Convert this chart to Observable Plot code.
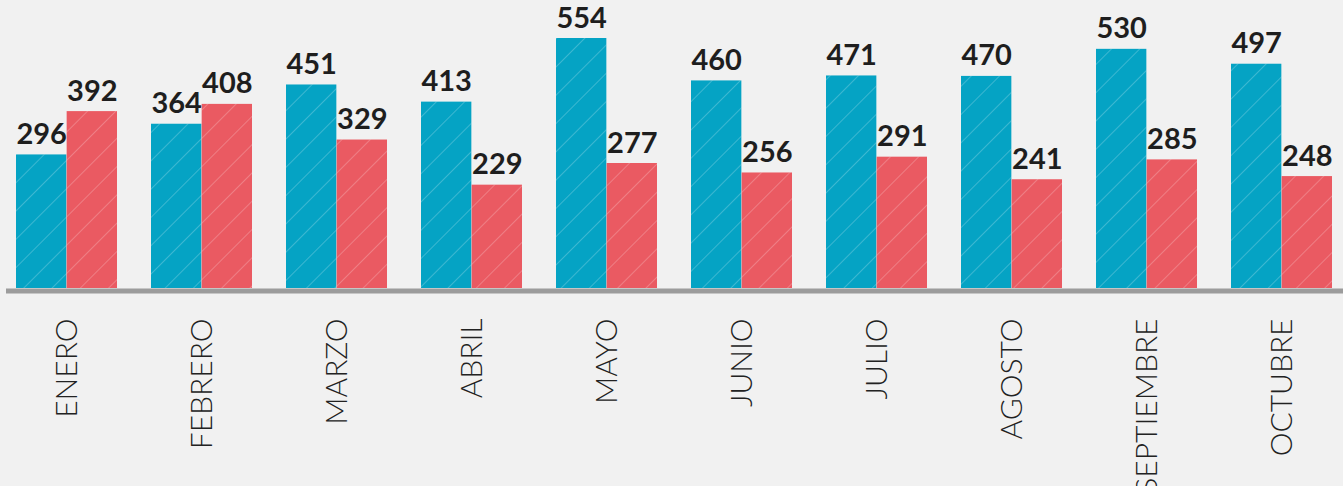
<!DOCTYPE html>
<html>
<head>
<meta charset="utf-8">
<script src="https://cdn.jsdelivr.net/npm/d3@7"></script>
<script src="https://cdn.jsdelivr.net/npm/@observablehq/plot@0.6"></script>
<style>
  html, body { margin: 0; padding: 0; background: #f1f1f1; }
  #chart svg { display: block; }
</style>
</head>
<body>
<div id="chart"></div>
<script>
const months = ["ENERO", "FEBRERO", "MARZO", "ABRIL", "MAYO", "JUNIO", "JULIO", "AGOSTO", "SEPTIEMBRE", "OCTUBRE"];
const seriesA = [296, 364, 451, 413, 554, 460, 471, 470, 530, 497];
const seriesB = [392, 408, 329, 229, 277, 256, 291, 241, 285, 248];

const colorA = "#05a3c4";
const colorB = "#ea5a62";

const dataA = months.map((m, i) => ({month: m, value: seriesA[i]}));
const dataB = months.map((m, i) => ({month: m, value: seriesB[i]}));

const width = 1343, height = 486;
const marginLeft = 6, marginRight = 0, marginBottom = 198;
const baselineY = height - marginBottom; // 288
const yMax = 600;
const marginTop = baselineY - yMax * (250 / 554);

const innerW = width - marginLeft - marginRight;
const padInner = 0.25, padOuter = 0.074;
const step = innerW / (months.length - padInner + 2 * padOuter);
const bw = step * (1 - padInner);
const half = bw / 2;

const numFont = "Lato, 'DejaVu Sans', sans-serif";

const chart = Plot.plot({
  width, height, marginLeft, marginRight, marginTop, marginBottom,
  style: {background: "transparent", overflow: "visible"},
  x: {domain: months, padding: padInner, paddingOuter: padOuter, axis: null},
  y: {domain: [0, yMax], axis: null},
  marks: [
    Plot.barY(dataA, {x: "month", y: "value", fill: colorA, insetRight: half}),
    Plot.barY(dataA, {x: "month", y: "value", fill: "url(#hatch)", insetRight: half}),
    Plot.barY(dataB, {x: "month", y: "value", fill: colorB, insetLeft: half}),
    Plot.barY(dataB, {x: "month", y: "value", fill: "url(#hatch)", insetLeft: half}),
    Plot.ruleY([0], {stroke: "#9c9c9c", strokeWidth: 5, dy: 2.5}),
    Plot.text(dataA, {x: "month", y: "value", text: d => String(d.value), dx: -half / 2, dy: -11,
      lineAnchor: "bottom", fontSize: 29, fontWeight: "bold", fill: "#1e1e1e", fontFamily: numFont}),
    Plot.text(dataB, {x: "month", y: "value", text: d => String(d.value), dx: half / 2, dy: -11,
      lineAnchor: "bottom", fontSize: 29, fontWeight: "bold", fill: "#1e1e1e", fontFamily: numFont}),
    Plot.text(months, {x: d => d, frameAnchor: "bottom", rotate: -90, textAnchor: "end",
      lineAnchor: "middle", dy: 30, fontSize: 30, fontWeight: 300, fill: "#222",
      fontFamily: "Lato, 'Open Sans', sans-serif"})
  ]
});

// hatch pattern definition
const ns = "http://www.w3.org/2000/svg";
const defs = document.createElementNS(ns, "defs");
defs.innerHTML = `<pattern id="hatch" patternUnits="userSpaceOnUse" width="20" height="20" patternTransform="rotate(45)">
  <line x1="0" y1="0" x2="0" y2="20" stroke="#ffffff" stroke-opacity="0.28" stroke-width="1.6"/>
</pattern>`;
chart.insertBefore(defs, chart.firstChild);

document.getElementById("chart").appendChild(chart);
</script>
</body>
</html>
